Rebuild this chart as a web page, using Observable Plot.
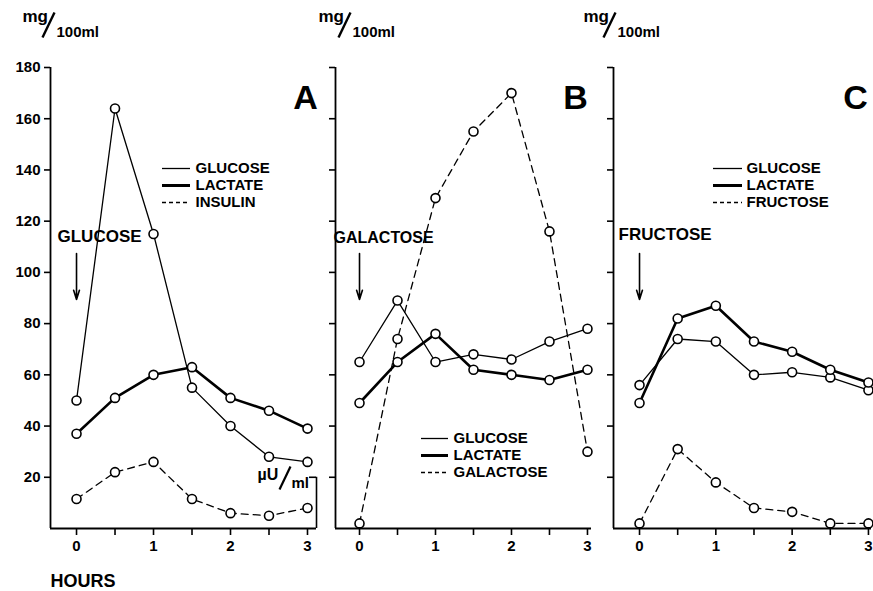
<!DOCTYPE html>
<html>
<head>
<meta charset="utf-8">
<script src="https://cdn.jsdelivr.net/npm/d3@7"></script>
<script src="https://cdn.jsdelivr.net/npm/@observablehq/plot@0.6"></script>
<style>
  body { margin: 0; background: white; }
  #wrap { position: relative; width: 873px; height: 591px; background: white; overflow: hidden; }
  #wrap svg { position: absolute; top: 0; }
</style>
</head>
<body>
<div id="wrap"></div>
<script>
// ---- data ----
const hours = [0, 0.5, 1, 1.5, 2, 2.5, 3];
const glucoseA = [50, 164, 115, 55, 40, 28, 26];
const lactateA = [37, 51, 60, 63, 51, 46, 39];
const insulinA = [11.5, 22, 26, 11.5, 6, 5, 8];      // µU/ml
const glucoseB = [65, 89, 65, 68, 66, 73, 78];
const lactateB = [49, 65, 76, 62, 60, 58, 62];
const galactoseB = [2, 74, 129, 155, 170, 116, 30];
const glucoseC = [56, 74, 73, 60, 61, 59, 54];
const lactateC = [49, 82, 87, 73, 69, 62, 57];
const fructoseC = [2, 31, 18, 8, 6.5, 2, 2];
const yTicks = [20, 40, 60, 80, 100, 120, 140, 160, 180];
const xTicks = [0, 0.5, 1, 1.5, 2, 2.5, 3];
const xTickLabels = ["0", "", "1", "", "2", "", "3"];

const FONT = "'Liberation Sans', Arial, Helvetica, sans-serif";
const TOP = 67, BOTTOM = 528, H = 591;

function rows(vals) { return hours.map((h, i) => ({hour: h, value: vals[i]})); }

function panel(cfg) {
  const {L, W, ml, mr, xdom, series, legend, legendPos, letter, letterX, drug, drugPos, unitX, yLabels, extra} = cfg;
  const plotW = W - ml - mr;
  const X = px => xdom[0] + (px - L - ml) / plotW * (xdom[1] - xdom[0]);
  const Y = py => (BOTTOM - py) / (BOTTOM - TOP) * 180;
  const marks = [];
  // axes
  marks.push(Plot.ruleX([xdom[0]], {y1: 0, y2: 180, strokeWidth: 1.8}));
  marks.push(Plot.ruleY([0], {strokeWidth: 1.8}));
  marks.push(Plot.axisY(yTicks, {tickSize: 6, tickPadding: 4, strokeWidth: 1.6, fontSize: 15,
    tickFormat: yLabels ? (d => String(d)) : (() => "")}));
  marks.push(Plot.axisX(xTicks, {tickSize: 7, tickPadding: 5, strokeWidth: 1.6, fontSize: 15,
    tickFormat: (d) => xTickLabels[xTicks.indexOf(d)]}));
  // series lines
  for (const s of series) {
    marks.push(Plot.line(rows(s.values), {x: "hour", y: "value", stroke: "black",
      strokeWidth: s.kind === "thick" ? 2.6 : 1.3,
      strokeDasharray: s.kind === "dash" ? "7,5" : null}));
  }
  for (const s of series) {
    marks.push(Plot.dot(rows(s.values), {x: "hour", y: "value", r: 4.5, fill: "white", stroke: "black", strokeWidth: 1.6}));
  }
  // legend
  const lg = legend.map((name, i) => ({name, kind: ["thin", "thick", "dash"][i],
    x1: X(legendPos.x1), x2: X(legendPos.x2), tx: X(legendPos.tx), y: Y(legendPos.ys[i])}));
  for (const r of lg) {
    marks.push(Plot.ruleY([r], {y: "y", x1: "x1", x2: "x2", stroke: "black",
      strokeWidth: r.kind === "thick" ? 3 : 1.3, strokeDasharray: r.kind === "dash" ? "4,3" : null}));
  }
  marks.push(Plot.text(lg, {x: "tx", y: "y", text: "name", textAnchor: "start", fontSize: legendPos.fs, fontWeight: "bold"}));
  // panel letter
  marks.push(Plot.text([{t: letter, x: X(letterX), y: Y(98)}], {x: "x", y: "y", text: "t", fontSize: 34, fontWeight: "bold"}));
  // injection annotation and arrow
  marks.push(Plot.text([{t: drug, x: X(drugPos.x), y: Y(drugPos.y)}], {x: "x", y: "y", text: "t", textAnchor: "start", fontSize: drugPos.fs, fontWeight: "bold"}));
  marks.push(Plot.arrow([{x: 0, y1: Y(253), y2: Y(299)}], {x1: "x", x2: "x", y1: "y1", y2: "y2", strokeWidth: 1.6, headLength: 9, headAngle: 35}));
  // unit label mg/100ml (slash drawn as a stroke)
  marks.push(Plot.text([{t: "mg", x: X(unitX), y: Y(16)}], {x: "x", y: "y", text: "t", textAnchor: "start", fontSize: 17, fontWeight: "bold"}));
  marks.push(Plot.link([{x1: X(unitX + 20), y1: Y(37), x2: X(unitX + 32), y2: Y(12)}], {x1: "x1", y1: "y1", x2: "x2", y2: "y2", strokeWidth: 2.4}));
  marks.push(Plot.text([{t: "100ml", x: X(unitX + 34), y: Y(32)}], {x: "x", y: "y", text: "t", textAnchor: "start", fontSize: 15, fontWeight: "bold"}));
  if (extra) extra(marks, X, Y, xdom);
  const svg = Plot.plot({
    width: W, height: H,
    marginLeft: ml, marginRight: mr, marginTop: TOP, marginBottom: H - BOTTOM,
    x: {domain: xdom}, y: {domain: [0, 180]},
    style: {fontFamily: FONT, fontWeight: "bold", color: "black", background: "none", overflow: "visible"},
    marks
  });
  svg.style.left = L + "px";
  return svg;
}

const wrap = document.getElementById("wrap");

wrap.appendChild(panel({
  L: 0, W: 330, ml: 50, mr: 14, xdom: [-0.338, 3.117],
  series: [{values: glucoseA, kind: "thin"}, {values: lactateA, kind: "thick"}, {values: insulinA, kind: "dash"}],
  legend: ["GLUCOSE", "LACTATE", "INSULIN"],
  legendPos: {x1: 162, x2: 190, tx: 195, ys: [168, 185, 202], fs: 15},
  letter: "A", letterX: 305,
  drug: "GLUCOSE", drugPos: {x: 57, y: 236, fs: 17},
  unitX: 22, yLabels: true,
  extra: (marks, X, Y, xdom) => {
    // right µU/ml bracket axis
    marks.push(Plot.ruleX([xdom[1]], {y1: 0, y2: 20, strokeWidth: 1.6}));
    marks.push(Plot.ruleY([20], {x1: X(309), x2: xdom[1], strokeWidth: 1.6}));
    marks.push(Plot.text([{t: "\u00b5U", x: X(257), y: Y(474)}], {x: "x", y: "y", text: "t", textAnchor: "start", fontSize: 16, fontWeight: "bold"}));
    marks.push(Plot.link([{x1: X(279), y1: Y(489), x2: X(290), y2: Y(466)}], {x1: "x1", y1: "y1", x2: "x2", y2: "y2", strokeWidth: 2.2}));
    marks.push(Plot.text([{t: "ml", x: X(291), y: Y(483)}], {x: "x", y: "y", text: "t", textAnchor: "start", fontSize: 15, fontWeight: "bold"}));
    marks.push(Plot.text([{t: "HOURS", x: X(50), y: Y(581)}], {x: "x", y: "y", text: "t", textAnchor: "start", fontSize: 18, fontWeight: "bold"}));
  }
}));

wrap.appendChild(panel({
  L: 300, W: 300, ml: 35, mr: 9, xdom: [-0.316, 3.053],
  series: [{values: glucoseB, kind: "thin"}, {values: lactateB, kind: "thick"}, {values: galactoseB, kind: "dash"}],
  legend: ["GLUCOSE", "LACTATE", "GALACTOSE"],
  legendPos: {x1: 421, x2: 448, tx: 453, ys: [438, 455, 472], fs: 15},
  letter: "B", letterX: 575,
  drug: "GALACTOSE", drugPos: {x: 333, y: 237, fs: 16},
  unitX: 318, yLabels: false
}));

wrap.appendChild(panel({
  L: 590, W: 283, ml: 23, mr: 2, xdom: [-0.341, 3.04],
  series: [{values: glucoseC, kind: "thin"}, {values: lactateC, kind: "thick"}, {values: fructoseC, kind: "dash"}],
  legend: ["GLUCOSE", "LACTATE", "FRUCTOSE"],
  legendPos: {x1: 713, x2: 742, tx: 746, ys: [168, 185, 202], fs: 15},
  letter: "C", letterX: 855,
  drug: "FRUCTOSE", drugPos: {x: 618, y: 234, fs: 17},
  unitX: 583, yLabels: false
}));
</script>
</body>
</html>
